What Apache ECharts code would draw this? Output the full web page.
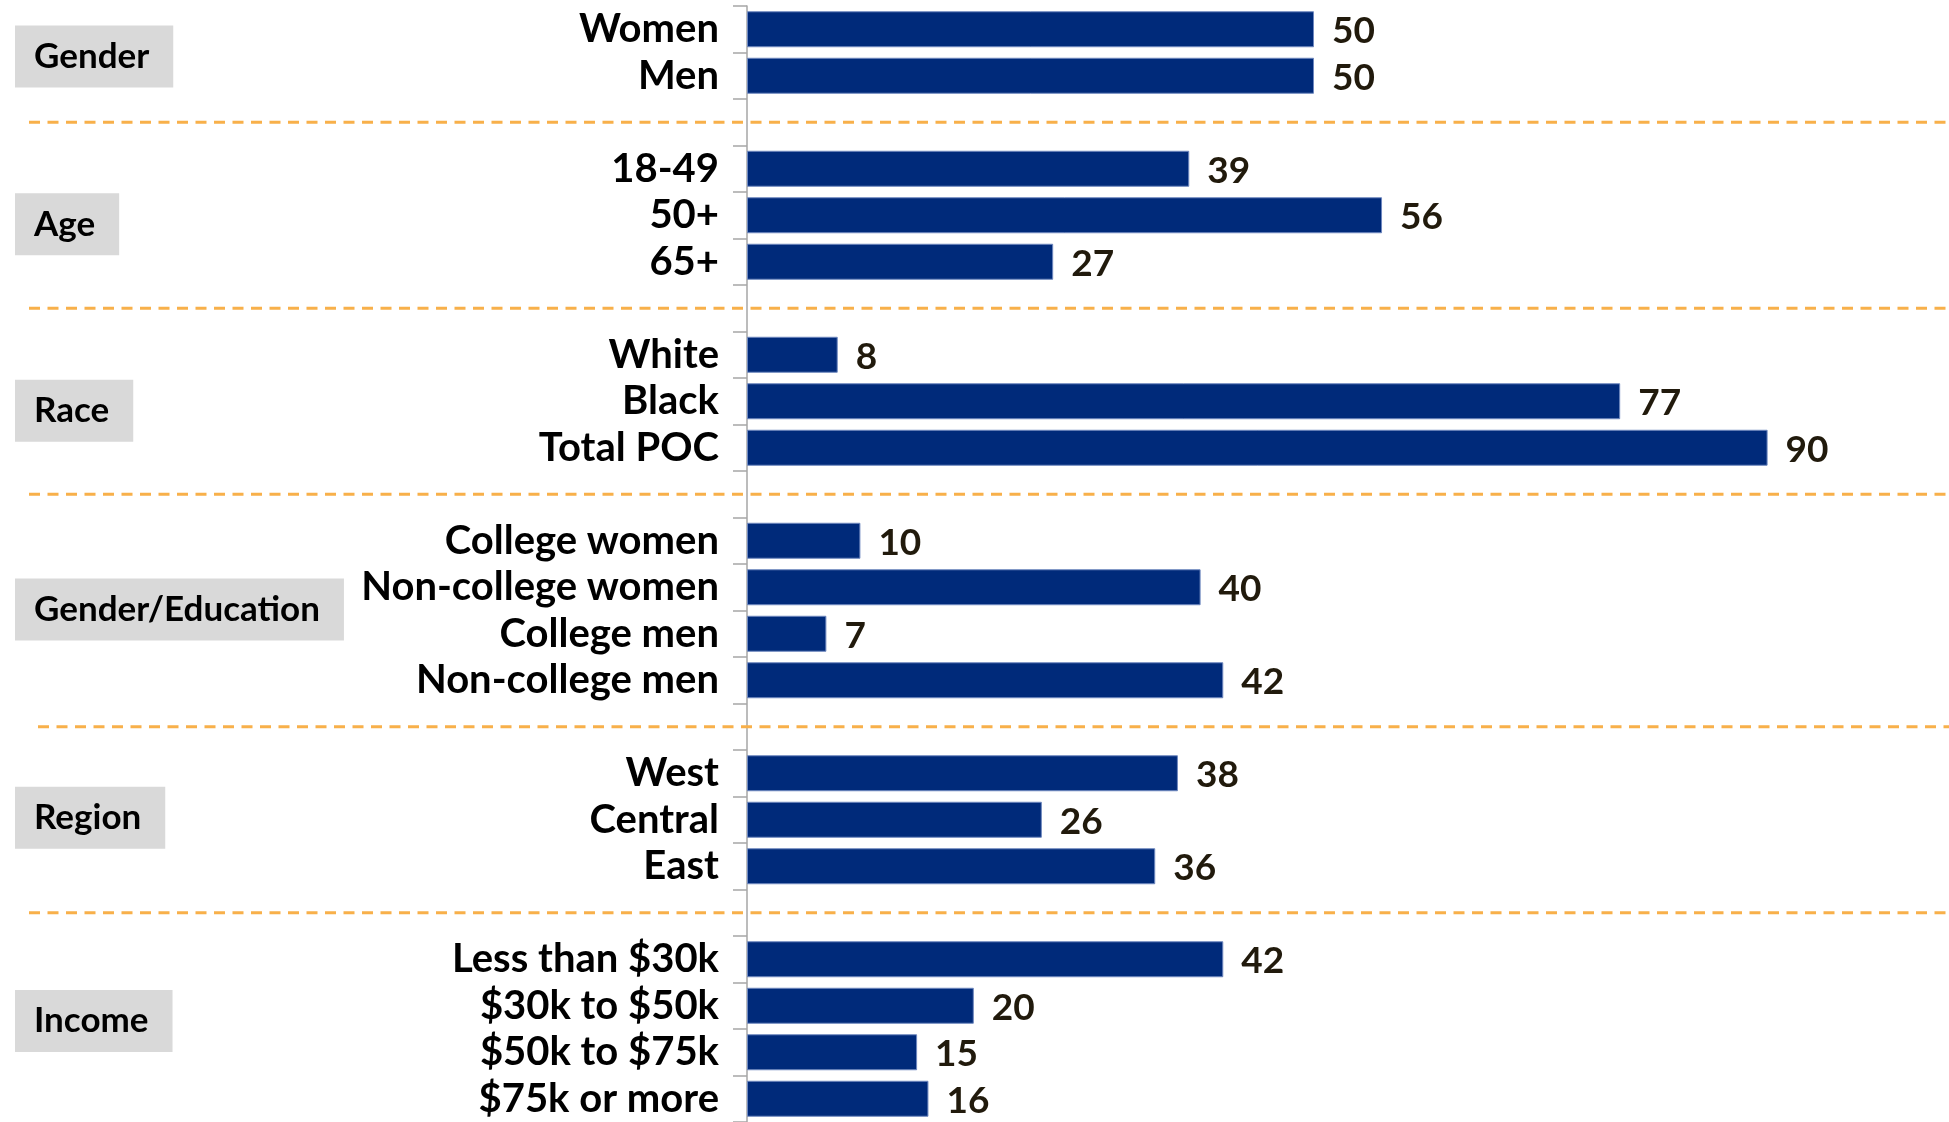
<!DOCTYPE html>
<html>
<head>
<meta charset="utf-8">
<title>Share by demographic group</title>
<script src="https://cdn.jsdelivr.net/npm/echarts@6/dist/echarts.min.js"></script>
<style>
  html, body { margin: 0; padding: 0; background: #ffffff; }
  #chart { width: 1949px; height: 1122px; }
</style>
</head>
<body>
<div id="chart"></div>
<script>
// ---- data -------------------------------------------------------------
const groupNames = ['Gender', 'Age', 'Race', 'Gender/Education', 'Region', 'Income'];

const genderCategories = ['Women', 'Men'];
const genderValues = [50, 50];

const ageCategories = ['18-49', '50+', '65+'];
const ageValues = [39, 56, 27];

const raceCategories = ['White', 'Black', 'Total POC'];
const raceValues = [8, 77, 90];

const genderEduCategories = ['College women', 'Non-college women', 'College men', 'Non-college men'];
const genderEduValues = [10, 40, 7, 42];

const regionCategories = ['West', 'Central', 'East'];
const regionValues = [38, 26, 36];

const incomeCategories = ['Less than $30k', '$30k to $50k', '$50k to $75k', '$75k or more'];
const incomeValues = [42, 20, 15, 16];

const groupCategories = [genderCategories, ageCategories, raceCategories, genderEduCategories, regionCategories, incomeCategories];
const groupValues = [genderValues, ageValues, raceValues, genderEduValues, regionValues, incomeValues];

// ---- build one category axis with an empty slot between groups ----------
const categories = [];
const values = [];
const gapIndices = [];
const groupRanges = [];
groupCategories.forEach((cats, g) => {
  if (g > 0) {
    gapIndices.push(categories.length);
    categories.push('gap' + g);
    values.push(null);
  }
  const start = categories.length;
  cats.forEach((c, i) => {
    categories.push(c);
    values.push(groupValues[g][i]);
  });
  groupRanges.push([start, categories.length - 1]);
});

// ---- styling ----------------------------------------------------------
const FONT = 'Lato, "Noto Sans", sans-serif';
const BAR_COLOR = '#002a7a';
const SEP_COLOR = '#f8b04a';
const SEP_START_X = [29, 29, 29, 38, 29];
const GROUP_LABEL_NUDGE = [4, 9, 9.5, -1, -2, -8];

const chart = echarts.init(document.getElementById('chart'), null, { renderer: 'canvas' });

chart.setOption({
  animation: false,
  backgroundColor: '#ffffff',
  grid: { left: 747, top: 6, width: 1134, height: 1121, containLabel: false },
  xAxis: {
    type: 'value',
    min: 0,
    max: 100,
    show: false
  },
  yAxis: {
    type: 'category',
    inverse: true,
    data: categories,
    axisLine: { show: true, lineStyle: { color: '#a6a6a6', width: 1.5 } },
    axisTick: { show: true, length: 14, interval: 0, lineStyle: { color: '#a6a6a6', width: 1.5 } },
    axisLabel: {
      interval: 0,
      margin: 28,
      fontFamily: FONT,
      fontWeight: 'bold',
      fontSize: 40,
      color: '#000000',
      formatter: (name) => (name.indexOf('gap') === 0 ? '' : name)
    }
  },
  series: [{
    type: 'bar',
    data: values,
    barWidth: 36,
    itemStyle: { color: BAR_COLOR, borderColor: '#6f88bf', borderWidth: 1 },
    label: {
      show: true,
      position: 'right',
      distance: 18,
      offset: [0, 2],
      fontFamily: FONT,
      fontWeight: 'bold',
      fontSize: 37,
      color: '#211a0c',
      formatter: (p) => (p.value == null ? '' : String(p.value))
    }
  }]
});

// ---- separators and group labels placed through the category scale ------
const graphics = [];
gapIndices.forEach((idx, i) => {
  const y = chart.convertToPixel({ yAxisIndex: 0 }, idx);
  graphics.push({
    type: 'line',
    silent: true,
    z: 1,
    shape: { x1: SEP_START_X[i], y1: y, x2: 1949, y2: y },
    style: { stroke: SEP_COLOR, lineWidth: 3, lineDash: [11, 7.5] }
  });
});
groupRanges.forEach((r, g) => {
  const y0 = chart.convertToPixel({ yAxisIndex: 0 }, r[0]);
  const y1 = chart.convertToPixel({ yAxisIndex: 0 }, r[1]);
  const cy = (y0 + y1) / 2 + GROUP_LABEL_NUDGE[g];
  graphics.push({
    type: 'text',
    silent: true,
    z: 5,
    x: 15,
    y: cy,
    style: {
      text: groupNames[g],
      font: 'bold 35px ' + FONT,
      fill: '#000000',
      verticalAlign: 'middle',
      align: 'left',
      backgroundColor: '#d9d9d9',
      padding: [13, 24, 14, 19],
      lineHeight: 35
    }
  });
});
chart.setOption({ graphic: graphics });
</script>
</body>
</html>
